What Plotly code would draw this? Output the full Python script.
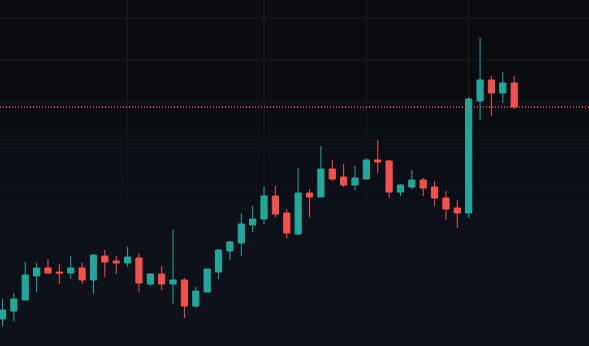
import plotly.graph_objects as go

# index of each candle (46 sessions)
idx = list(range(46))

open_ = [55.4, 57.0, 59.2, 64.0, 65.6, 64.8, 64.6, 65.6, 63.2, 68.0,
         67.0, 66.6, 67.6, 62.4, 64.4, 62.4, 63.2, 58.0, 60.8, 64.8,
         69.0, 70.6, 74.2, 75.4, 80.0, 76.6, 72.4, 80.6, 79.8, 85.4,
         83.8, 82.2, 83.4, 87.2, 87.0, 80.8, 81.8, 83.2, 81.8, 79.6,
         77.6, 76.6, 99.0, 103.2, 100.6, 102.6]
high = [59.4, 60.6, 66.8, 66.6, 67.4, 66.4, 68.0, 66.6, 68.4, 69.2,
        68.0, 69.8, 68.6, 64.6, 66.0, 73.2, 63.6, 61.8, 65.4, 69.2,
        71.0, 76.6, 78.0, 82.0, 82.0, 77.4, 85.6, 81.4, 90.0, 87.2,
        86.4, 86.0, 87.6, 91.2, 87.2, 82.4, 85.2, 83.6, 83.0, 81.0,
        79.2, 99.8, 111.6, 104.0, 104.8, 104.0]
low = [54.0, 55.0, 59.2, 60.8, 64.4, 62.4, 63.4, 62.4, 60.4, 63.8,
       64.4, 65.8, 60.8, 62.0, 61.2, 58.4, 55.6, 57.6, 60.8, 63.4,
       67.2, 68.0, 72.8, 74.4, 75.8, 71.6, 72.2, 75.8, 79.8, 83.0,
       81.8, 81.2, 83.4, 84.6, 79.6, 80.0, 81.4, 80.0, 78.0, 75.2,
       73.6, 75.6, 95.2, 96.0, 98.6, 97.4]
close = [57.2, 59.4, 64.2, 65.6, 64.6, 64.6, 65.6, 63.2, 68.2, 66.8,
         66.6, 67.8, 62.6, 64.4, 62.4, 63.2, 58.0, 61.0, 65.4, 69.2,
         70.8, 74.4, 75.4, 80.0, 76.4, 72.6, 80.6, 79.8, 85.4, 83.4,
         82.2, 83.6, 87.2, 86.8, 80.8, 82.2, 83.2, 81.6, 79.6, 77.4,
         76.6, 99.4, 103.2, 100.6, 102.6, 97.8]

# grid positions
grid_x = [11, 23, 32, 41]
grid_y = [115.6, 107.2, 98.8, 90.4, 82.0]

UP = "#26a69a"
DOWN = "#ef5350"
TOP_BG = "#0a0c10"
BOT_BG = "#0e111a"
GRID = "#181b22"

fig = go.Figure(go.Candlestick(
    x=idx, open=open_, high=high, low=low, close=close,
    increasing=dict(line=dict(color=UP, width=1), fillcolor=UP),
    decreasing=dict(line=dict(color=DOWN, width=1), fillcolor=DOWN),
    whiskerwidth=0, hoverinfo="skip", showlegend=False,
))

shapes = []
# grid lines (drawn as shapes so the lower fade can cover them)
for gx in grid_x:
    shapes.append(dict(type="line", xref="x", yref="paper",
                       x0=gx, x1=gx, y0=0, y1=1,
                       line=dict(color=GRID, width=1), layer="below"))
for gy in grid_y:
    shapes.append(dict(type="line", xref="paper", yref="y",
                       x0=0, x1=1, y0=gy, y1=gy,
                       line=dict(color=GRID, width=1), layer="below"))
# gradient fade of the lower chart area
for y0, a in [(100, 0.15), (115, 0.15), (130, 0.18), (145, 0.2), (160, 0.25),
              (175, 0.3), (190, 0.35), (205, 0.45)]:
    shapes.append(dict(type="rect", xref="paper", yref="paper",
                       x0=0, x1=1, y0=0, y1=1 - y0 / 346,
                       fillcolor=f"rgba(14,17,26,{a})", line=dict(width=0),
                       layer="below"))
shapes.append(dict(type="rect", xref="paper", yref="paper",
                   x0=0, x1=1, y0=0, y1=1 - 224 / 346,
                   fillcolor=BOT_BG, line=dict(width=0), layer="below"))
# last price line
shapes.append(dict(type="line", xref="paper", yref="y",
                   x0=0, x1=1, y0=close[-1], y1=close[-1],
                   line=dict(color=DOWN, width=1.3, dash="1px,2px"),
                   layer="above"))

fig.update_layout(
    width=589, height=346,
    margin=dict(l=0, r=0, t=0, b=0, pad=0),
    paper_bgcolor=BOT_BG, plot_bgcolor=TOP_BG,
    boxgap=0.22,
    shapes=shapes,
    showlegend=False,
    xaxis=dict(range=[-0.22, 51.58], rangeslider=dict(visible=False),
               showticklabels=False, ticks="", showgrid=False,
               zeroline=False, showline=False, fixedrange=True),
    yaxis=dict(range=[50.0, 119.2], showticklabels=False, ticks="",
               showgrid=False, zeroline=False, showline=False,
               fixedrange=True),
)

fig.write_html("out.html", config={"displayModeBar": False})
